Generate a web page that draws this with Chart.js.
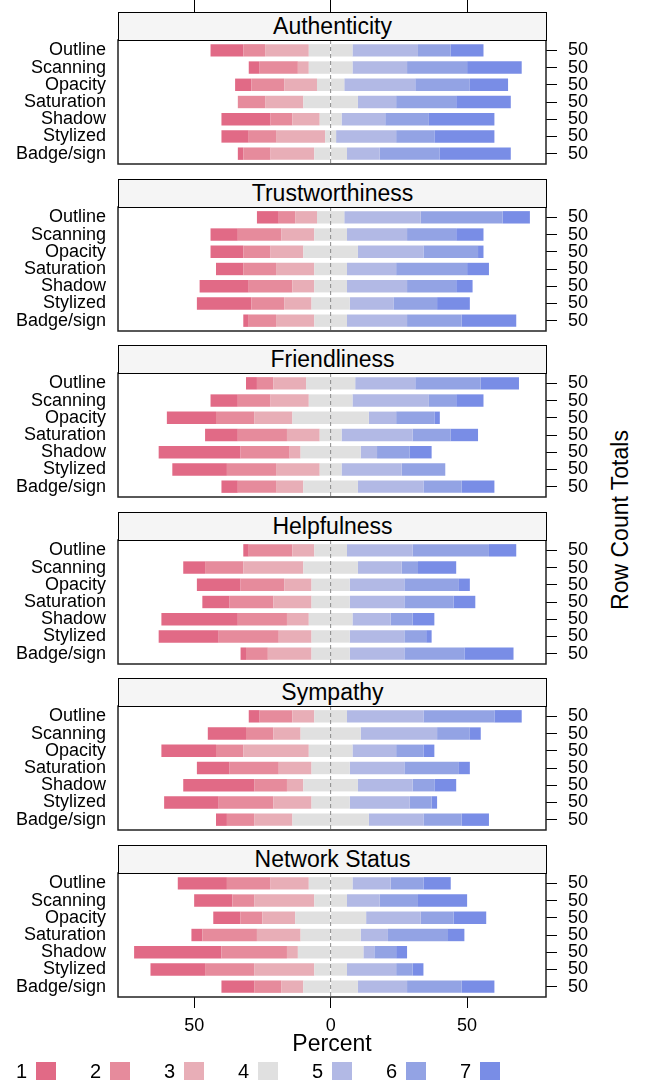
<!DOCTYPE html>
<html>
<head>
<meta charset="utf-8">
<script src="https://cdn.jsdelivr.net/npm/chart.js@4.4.1/dist/chart.umd.min.js"></script>
<style>
  body { margin: 0; background: #fff; font-family: 'Liberation Sans', Arial, sans-serif; color: #000; }
  #page { position: relative; width: 646px; height: 1085px; overflow: hidden; }
  canvas { position: absolute; left: 0; }
  .strip { position: absolute; left: 118px; width: 429px; height: 29px; box-sizing: border-box;
           border: 1px solid #000; background: #f5f5f5; text-align: center; font-size: 23px;
           line-height: 27px; z-index: 2; }
  .lg-label { position: absolute; width: 30px; text-align: right; font-size: 20px; line-height: 18px; }
  .lg-box { position: absolute; width: 20px; height: 18px; }
  #ylab { position: absolute; left: 620px; top: 520px; font-size: 23px; white-space: nowrap;
          transform: translate(-50%, -50%) rotate(-90deg); }
</style>
</head>
<body>
<div id="page">
  <div id="ylab">Row Count Totals</div>
</div>
<script>
// categorias y colores
const categories = ['1', '2', '3', '4', '5', '6', '7'];
const colors = ['#E16A86', '#E68B9C', '#E8AEB7', '#E0E0E0', '#B2B9E5', '#93A3E4', '#798DE6'];
const items = ['Outline', 'Scanning', 'Opacity', 'Saturation', 'Shadow', 'Stylized', 'Badge/sign'];
const rowTotals = [50, 50, 50, 50, 50, 50, 50];
const panelTitles = ['Authenticity', 'Trustworthiness', 'Friendliness', 'Helpfulness', 'Sympathy', 'Network Status'];
const xTicks = [-50, 0, 50];

// porcentajes por fila (categorias 1..7)
const authenticity = [
  [12, 8, 16, 16, 24, 12, 12],
  [4, 14, 4, 16, 20, 22, 20],
  [6, 12, 12, 10, 26, 20, 14],
  [0, 10, 14, 20, 14, 22, 20],
  [18, 8, 10, 8, 16, 16, 24],
  [10, 10, 18, 4, 22, 14, 22],
  [2, 10, 16, 12, 12, 22, 26]
];
const trustworthiness = [
  [8, 6, 8, 10, 28, 30, 10],
  [10, 16, 12, 12, 22, 18, 10],
  [12, 10, 12, 20, 24, 20, 2],
  [10, 12, 14, 12, 18, 26, 8],
  [18, 16, 8, 12, 22, 18, 6],
  [20, 12, 10, 14, 16, 16, 12],
  [2, 10, 14, 12, 22, 20, 20]
];
const friendliness = [
  [4, 6, 12, 18, 22, 24, 14],
  [10, 12, 14, 16, 28, 10, 10],
  [18, 14, 14, 28, 10, 14, 2],
  [12, 18, 12, 8, 26, 14, 10],
  [30, 18, 4, 22, 6, 12, 8],
  [20, 18, 16, 8, 22, 16, 0],
  [6, 14, 10, 20, 24, 14, 12]
];
const helpfulness = [
  [2, 16, 8, 12, 24, 28, 10],
  [8, 14, 22, 20, 16, 6, 14],
  [16, 16, 10, 14, 20, 20, 4],
  [10, 16, 14, 14, 20, 18, 8],
  [28, 18, 8, 16, 14, 8, 8],
  [22, 22, 12, 14, 20, 8, 2],
  [2, 8, 16, 14, 20, 22, 18]
];
const sympathy = [
  [4, 12, 8, 12, 28, 26, 10],
  [14, 10, 10, 22, 28, 12, 4],
  [20, 10, 24, 16, 16, 10, 4],
  [12, 18, 12, 14, 20, 20, 4],
  [26, 12, 6, 20, 20, 8, 8],
  [20, 20, 14, 14, 22, 8, 2],
  [4, 10, 14, 28, 20, 14, 10]
];
const networkStatus = [
  [18, 16, 14, 16, 14, 12, 10],
  [14, 8, 22, 12, 12, 14, 18],
  [10, 8, 12, 26, 20, 12, 12],
  [4, 20, 16, 22, 10, 22, 6],
  [32, 24, 4, 24, 4, 8, 4],
  [20, 18, 22, 12, 18, 6, 4],
  [12, 10, 8, 20, 18, 20, 12]
];
const panels = [authenticity, trustworthiness, friendliness, helpfulness, sympathy, networkStatus];

Chart.defaults.font.family = "'Liberation Sans', Arial, sans-serif";
Chart.defaults.color = '#000';

const page = document.getElementById('page');

// orden de apilado: neutral a cada lado del cero, luego hacia fuera
const order = [3, 2, 1, 0, 3, 4, 5, 6];

function buildDatasets(rows) {
  return order.map((c, j) => ({
    label: categories[c],
    backgroundColor: colors[c],
    borderWidth: 0,
    data: rows.map((r, i) => {
      const v = c === 3 ? r[c] / 2 : r[c];
      return { x: j < 4 ? -v : v, y: i + 1 };
    })
  }));
}

// marco del panel y linea de cero
const framePlugin = {
  id: 'frame',
  afterDatasetsDraw(chart) {
    const { ctx, chartArea: a } = chart;
    const x0 = chart.scales.x.getPixelForValue(0);
    ctx.save();
    ctx.strokeStyle = '#8a8a8a';
    ctx.lineWidth = 1;
    ctx.setLineDash([4, 3]);
    ctx.beginPath();
    ctx.moveTo(x0, a.top);
    ctx.lineTo(x0, a.bottom);
    ctx.stroke();
    ctx.setLineDash([]);
    ctx.strokeStyle = '#222';
    ctx.lineWidth = 1.5;
    ctx.strokeRect(a.left, a.top, a.right - a.left, a.bottom - a.top);
    ctx.restore();
  }
};

const rowTicks = scale => { scale.ticks = items.map((_, i) => ({ value: i + 1 })); };
// ancho fijo y sin relleno extra por las etiquetas
const fixWidth = w => scale => {
  scale.width = w;
  scale.paddingTop = 0;
  scale.paddingBottom = 0;
};

panels.forEach((rows, k) => {
  const stripTop = Math.round(12 + 166.5 * k);
  const plotTop = stripTop + 28;
  const first = k === 0;
  const last = k === panels.length - 1;

  const canvas = document.createElement('canvas');
  const top = first ? 0 : plotTop - 2;
  const height = first ? plotTop + 124 + 2 : (last ? 2 + 124 + 65 : 128);
  canvas.width = 646;
  canvas.height = height;
  canvas.style.top = top + 'px';
  canvas.style.width = '646px';
  canvas.style.height = height + 'px';
  page.appendChild(canvas);

  const strip = document.createElement('div');
  strip.className = 'strip';
  strip.style.top = stripTop + 'px';
  strip.textContent = panelTitles[k];
  page.appendChild(strip);

  new Chart(canvas, {
    type: 'bar',
    data: { datasets: buildDatasets(rows) },
    options: {
      indexAxis: 'y',
      responsive: false,
      animation: false,
      layout: { padding: { top: first ? 0 : 2, bottom: last ? 0 : 2, left: 0, right: 0 } },
      plugins: { legend: { display: false }, tooltip: { enabled: false } },
      scales: {
        x: {
          type: 'linear',
          min: -77.9,
          max: 78.9,
          stacked: true,
          display: first || last,
          position: first ? 'top' : 'bottom',
          afterBuildTicks: s => { s.ticks = xTicks.map(v => ({ value: v })); },
          afterFit: s => {
            if (first) s.height = plotTop;
            else if (last) s.height = 65;
            s.paddingLeft = 0;
            s.paddingRight = 0;
          },
          ticks: {
            display: last,
            font: { size: 18 },
            padding: 7,
            callback: v => Math.abs(v)
          },
          grid: { drawOnChartArea: false, color: '#000', tickLength: first ? plotTop : 11 },
          border: { display: false },
          title: {
            display: last,
            text: 'Percent',
            font: { size: 23 },
            padding: { top: 0, bottom: 4 }
          }
        },
        y: {
          type: 'linear',
          min: 0.4,
          max: 7.6,
          offset: false,
          reverse: true,
          stacked: true,
          position: 'left',
          afterBuildTicks: rowTicks,
          afterFit: fixWidth(118),
          ticks: { autoSkip: false, font: { size: 18 }, padding: 12, callback: v => items[v - 1] },
          grid: { display: false, drawTicks: false, offset: false },
          border: { display: false }
        },
        y2: {
          type: 'linear',
          min: 0.4,
          max: 7.6,
          offset: false,
          reverse: true,
          position: 'right',
          afterBuildTicks: rowTicks,
          afterFit: fixWidth(100),
          ticks: { autoSkip: false, font: { size: 18 }, padding: 11, callback: v => rowTotals[v - 1] },
          grid: { drawOnChartArea: false, color: '#000', tickLength: 11, offset: false },
          border: { display: false }
        }
      }
    },
    plugins: [framePlugin]
  });
});

// leyenda
categories.forEach((c, i) => {
  const boxLeft = 36 + 74 * i;
  const lab = document.createElement('div');
  lab.className = 'lg-label';
  lab.style.left = (boxLeft - 39) + 'px';
  lab.style.top = '1062px';
  lab.textContent = c;
  page.appendChild(lab);
  const box = document.createElement('div');
  box.className = 'lg-box';
  box.style.left = boxLeft + 'px';
  box.style.top = '1062px';
  box.style.background = colors[i];
  page.appendChild(box);
});
</script>
</body>
</html>
